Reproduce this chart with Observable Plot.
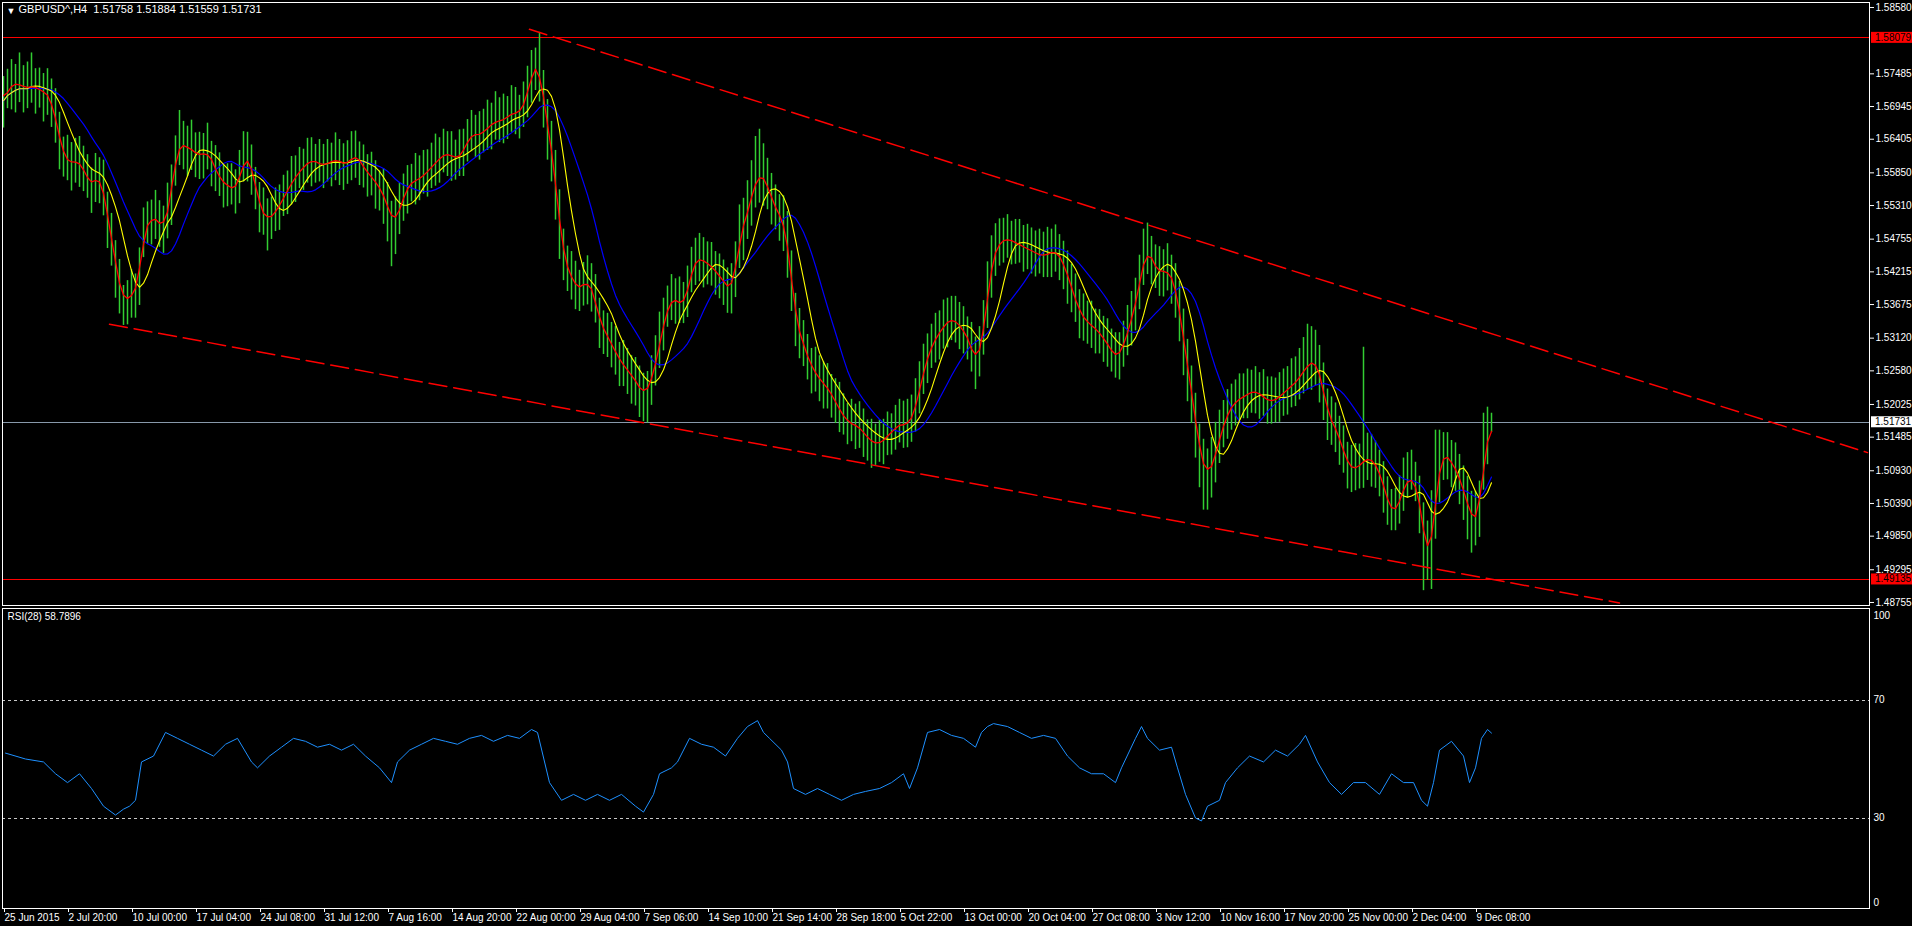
<!DOCTYPE html>
<html><head><meta charset="utf-8">
<script src="https://cdn.jsdelivr.net/npm/d3@7"></script>
<script src="https://cdn.jsdelivr.net/npm/@observablehq/plot@0.6"></script>
<style>
html,body{margin:0;padding:0;background:#000;}
#chart{position:relative;width:1912px;height:926px;background:#000;overflow:hidden;}
#chart svg{display:block;}
</style></head><body><div id="chart"></div>
<script>
const symbolTitle = "GBPUSD^,H4  1.51758 1.51884 1.51559 1.51731";
const rsiTitle = "RSI(28) 58.7896";
const timeLabels = ["25 Jun 2015","2 Jul 20:00","10 Jul 00:00","17 Jul 04:00","24 Jul 08:00","31 Jul 12:00","7 Aug 16:00","14 Aug 20:00","22 Aug 00:00","29 Aug 04:00","7 Sep 06:00","14 Sep 10:00","21 Sep 14:00","28 Sep 18:00","5 Oct 22:00","13 Oct 00:00","20 Oct 04:00","27 Oct 08:00","3 Nov 12:00","10 Nov 16:00","17 Nov 20:00","25 Nov 00:00","2 Dec 04:00","9 Dec 08:00"];
const priceTicks = [1.58580,1.57485,1.56945,1.56405,1.55850,1.55310,1.54755,1.54215,1.53675,1.53120,1.52580,1.52025,1.51485,1.50930,1.50390,1.49850,1.49295,1.48755];
const levelHigh = 1.58079, levelLow = 1.49135, lastPrice = 1.51731;
const rsiLevels = [70, 30];

// closes (pips x 1e4), one every two H4 bars
const closePips = [
15704,15721,15727,15734,15733,15724,15726,15728,15727,15722,
15719,15715,15705,15674,15645,15616,15602,15603,15604,15601,
15594,15575,15563,15572,15582,15556,15515,15476,15438,15402,
15369,15379,15385,15383,15416,15485,15499,15510,15511,15504,
15490,15518,15553,15608,15633,15630,15627,15624,15619,15612,
15615,15622,15607,15592,15576,15569,15564,15560,15557,15572,
15605,15612,15596,15564,15531,15518,15506,15513,15520,15530,
15543,15556,15567,15578,15587,15594,15600,15607,15604,15600,
15597,15600,15604,15607,15604,15601,15598,15608,15616,15606,
15595,15585,15579,15570,15560,15550,15531,15508,15505,15523,
15543,15562,15569,15572,15575,15580,15587,15594,15601,15608,
15615,15617,15613,15609,15611,15619,15638,15648,15648,15648,
15650,15660,15665,15669,15671,15673,15675,15684,15686,15681,
15695,15716,15745,15761,15762,15704,15666,15625,15572,15502,
15452,15429,15410,15401,15394,15395,15412,15395,15372,15343,
15327,15315,15303,15289,15277,15268,15259,15251,15242,15231,
15219,15227,15241,15268,15300,15333,15360,15377,15375,15371,
15366,15386,15422,15441,15443,15440,15436,15430,15423,15415,
15406,15398,15390,15421,15477,15495,15520,15545,15567,15585,
15578,15564,15544,15527,15514,15505,15471,15411,15346,15323,
15301,15283,15265,15255,15245,15237,15230,15220,15207,15194,
15184,15174,15171,15168,15165,15157,15147,15142,15138,15137,
15143,15150,15157,15163,15169,15172,15166,15178,15197,15223,
15257,15279,15297,15311,15321,15330,15338,15346,15339,15333,
15326,15312,15298,15272,15286,15319,15378,15433,15456,15469,
15474,15476,15473,15470,15466,15463,15460,15456,15453,15450,
15447,15450,15454,15457,15447,15437,15416,15396,15376,15356,
15347,15338,15333,15328,15321,15312,15302,15292,15281,15283,
15300,15321,15341,15369,15399,15437,15462,15442,15430,15421,
15420,15426,15413,15395,15361,15310,15265,15226,15179,15125,
15105,15084,15098,15118,15145,15167,15187,15198,15207,15211,
15215,15219,15223,15225,15220,15215,15210,15206,15210,15215,
15221,15227,15233,15239,15245,15258,15267,15271,15275,15255,
15226,15188,15177,15163,15147,15127,15105,15097,15096,15101,
15108,15115,15111,15104,15092,15068,15045,15027,15024,15040,
15064,15078,15081,15072,15044,14998,14945,14965,15044,15099,
15122,15116,15107,15097,15082,15061,15039,15017,15009,15026,
15105,15143,15173];
// distance from close to high / low, pips
const upPips = [
40,35,45,30,50,38,42,55,30,36, 30,42,35,50,40,28,45,32,38,44,
35,40,30,45,28,50,38,42,35,40, 30,28,40,35,45,42,38,30,45,35,
40,50,45,38,55,40,35,48,32,40, 35,45,30,38,42,28,36,40,33,50,
48,40,35,30,38,42,36,32,40,35, 38,32,45,35,40,30,42,36,28,40,
35,40,30,44,36,32,40,45,38,30, 36,30,40,35,28,42,38,30,40,45,
40,35,30,45,38,42,36,40,48,35, 42,36,40,30,45,38,35,40,32,38,
40,45,35,50,38,42,36,45,40,32, 40,45,42,30,55,50,40,45,50,55,
40,35,45,38,30,42,36,40,45,35, 30,38,35,42,28,40,36,32,38,35,
35,30,42,48,55,45,38,40,35,42, 38,45,40,36,42,38,35,40,32,36,
35,30,45,50,55,48,52,60,78,72, 55,45,40,38,35,42,50,45,40,38,
40,35,30,42,38,36,40,32,38,45, 36,30,40,35,42,38,30,36,32,40,
35,40,30,38,42,36,45,40,48,50, 45,40,38,42,36,45,40,35,42,38,
38,35,40,42,45,55,60,48,45,40, 36,40,32,38,42,35,40,38,36,42,
40,45,38,42,36,35,40,38,42,36, 38,35,40,32,38,36,42,35,40,38,
40,45,48,42,50,55,40,38,36,42, 38,42,36,40,45,50,45,40,42,45,
40,45,50,55,48,42,40,38,36,42, 38,42,36,40,35,45,38,42,36,40,
40,38,45,42,50,55,68,60,50,45, 45,40,38,42,36,40,35,38,42,36,
189,40,42,38,35,40,38,35,40,45, 50,45,46,35,40,42,65,95,116,61,
34,40,36,42,38,40,45,42,50,50, 83,55,15];
const dnPips = [
45,30,38,50,32,40,35,28,45,30, 50,35,45,40,55,38,30,48,36,40,
40,32,45,36,48,42,55,45,60,50, 36,45,40,38,50,40,32,44,36,42,
38,42,55,45,36,40,48,35,42,38, 40,32,45,38,30,42,35,28,40,38,
35,42,48,40,45,36,50,38,32,40, 30,40,35,42,28,38,32,45,36,30,
38,30,42,35,40,45,32,36,40,42, 35,40,32,45,38,50,60,78,55,40,
38,45,32,40,36,30,42,35,38,40, 30,38,42,36,32,40,35,28,38,42,
32,38,42,30,36,40,35,32,38,40, 35,40,45,40,60,45,60,55,65,60,
45,40,35,42,38,30,45,40,35,48, 42,35,40,38,45,36,40,48,42,50,
45,55,40,35,38,42,30,36,40,35, 30,40,35,42,38,45,36,32,40,38,
40,45,38,42,50,55,45,48,40,50, 48,40,45,36,42,50,60,55,48,45,
36,40,45,32,38,42,35,40,36,38, 32,38,30,40,35,42,38,45,36,30,
40,32,38,36,30,42,35,38,40,36, 38,42,35,40,45,36,42,38,35,40,
40,36,42,45,38,35,50,55,42,38, 38,32,40,36,30,42,35,38,40,32,
35,38,42,36,40,45,48,42,38,45, 40,36,38,42,35,40,38,36,35,40,
36,38,42,45,40,38,45,42,36,40, 40,36,45,50,55,60,58,55,65,60,
77,56,50,45,40,36,42,38,40,35, 36,40,35,38,42,32,40,36,38,42,
38,42,36,40,35,38,40,45,42,50, 50,45,42,40,45,38,42,40,36,38,
44,38,45,40,42,45,42,33,30,35, 38,30,20,30,55,103,33,68,64,59,
45,38,42,38,45,50,60,60,40,43, 44,40,17];

// RSI(28) (H4 bar number, value)
const rsiBar = [1,11,20,26,32,38,44,50,56,60,63,66,69,75,81,87,93,99,105,111,117,124,127,133,139,145,151,157,163,169,175,181,188,194,197,203,209,215,221,227,233,239,245,252,258,264,267,273,279,285,291,297,303,309,316,320,325,328,334,337,343,349,355,361,367,372,377,380,383,389,392,395,401,407,413,419,425,431,438,444,450,453,457,462,468,474,480,486,489,492,495,502,508,514,520,526,532,538,544,550,556,559,566,569,572,578,584,587,591,596,599,602,608,611,617,623,630,636,642,648,651,657,663,669,675,681,688,694,700,705,709,712,715,718,724,730,733,736,739,742,744];
const rsiVal = [52,50,49,45,42,45,40,34,31,33,34,36,49,51,59,57,55,53,51,55,57,49,47,51,54,57,56,54,55,53,55,51,47,42,49,53,55,57,56,55,57,58,56,58,57,60,59,42,36,38,36,38,36,38,34,32,38,45,47,49,57,55,54,51,57,61,63,59,57,53,49,40,38,40,38,36,38,39,40,42,45,40,47,59,60,58,57,54,59,61,62,61,59,57,58,57,51,47,45,45,42,47,57,61,57,53,54,47,38,30,29,34,36,42,47,51,49,53,51,55,58,49,42,38,42,42,38,45,42,42,36,34,42,53,56,51,42,47,57,60,58.79];

// channel lines (H4 bar number, price)
const channelUpper = [{bar: 263, price: 1.5822}, {bar: 932, price: 1.5123}];
const channelLower = [{bar: 53, price: 1.5335}, {bar: 808, price: 1.48748}];

const bars = closePips.map((c, j) => ({i: 2 * j, close: c / 1e4, hi: (c + upPips[j]) / 1e4, lo: (c - dnPips[j]) / 1e4}));
const rsiPts = rsiBar.map((b, k) => ({bar: b, rsi: rsiVal[k]}));
const timeTicks = timeLabels.map((_, k) => 32 * k);

const xDomain = [-0.5, 933];
const fontFamily = "'Liberation Sans', Arial, sans-serif";
const fmt5 = d3.format(".5f");
const crisp = {shapeRendering: "crispEdges"};

function priceTag(value, bg, fg) {
  return (index, scales, values, dims) => {
    const y = scales.y(value);
    const g = d3.create("svg:g");
    const x0 = dims.width - dims.marginRight + 2;
    g.append("rect").attr("x", x0).attr("y", y - 5.5).attr("width", dims.marginRight - 2).attr("height", 11).attr("fill", bg);
    g.append("text").attr("x", x0 + 4).attr("y", y).attr("dy", "0.35em").attr("fill", fg)
      .attr("text-anchor", "start").attr("font-size", 10).attr("font-family", fontFamily).text(fmt5(value));
    return g.node();
  };
}

const main = Plot.plot({
  width: 1912, height: 607,
  marginLeft: 2, marginRight: 43, marginTop: 2, marginBottom: 2,
  style: {background: "#000", color: "#fff", fontFamily, fontSize: "10px", overflow: "visible"},
  x: {domain: xDomain, axis: null},
  y: {domain: [1.48705, 1.58663], axis: null},
  marks: [
    Plot.ruleY([levelHigh, levelLow], {stroke: "#ff0000", ...crisp}),
    Plot.ruleY([lastPrice], {stroke: "#8899aa", ...crisp}),
    Plot.ruleX(bars, {x: "i", y1: "lo", y2: "hi", stroke: "#32cd32", strokeWidth: 1.5}),
    Plot.line(bars, Plot.windowY({k: 15, anchor: "end"}, {x: "i", y: "close", stroke: "#0000ff", strokeWidth: 1.2})),
    Plot.line(bars, Plot.windowY({k: 7, anchor: "end"}, {x: "i", y: "close", stroke: "#ffff00", strokeWidth: 1.1})),
    Plot.line(bars, Plot.windowY({k: 3, anchor: "middle"}, {x: "i", y: "close", stroke: "#ff0000", strokeWidth: 1.3})),
    Plot.line(channelUpper, {x: "bar", y: "price", stroke: "#ff0000", strokeDasharray: "18,7", clip: "frame"}),
    Plot.line(channelLower, {x: "bar", y: "price", stroke: "#ff0000", strokeDasharray: "18,7", clip: "frame"}),
    Plot.frame({stroke: "#fff", ...crisp}),
    Plot.axisY(priceTicks, {anchor: "right", tickSize: 4, tickPadding: 2, tickFormat: fmt5, fill: "#fff", stroke: "#fff", label: null}),
    priceTag(levelHigh, "#ff0000", "#000"),
    priceTag(levelLow, "#ff0000", "#000"),
    priceTag(lastPrice, "#ffffff", "#000"),
    Plot.text(["\u25BC"], {frameAnchor: "top-left", dx: 4, dy: 5, fill: "#fff", fontSize: 9, textAnchor: "start"}),
    Plot.text([symbolTitle], {frameAnchor: "top-left", dx: 16, dy: 3, fill: "#fff", fontSize: 11, textAnchor: "start"})
  ]
});

const rsiPlot = Plot.plot({
  width: 1912, height: 319,
  marginLeft: 2, marginRight: 43, marginTop: 1, marginBottom: 18,
  style: {background: "#000", color: "#fff", fontFamily, fontSize: "10px", overflow: "visible"},
  x: {domain: xDomain, axis: null, label: null},
  y: {domain: [0, 100], range: [299, 4], axis: null},
  marks: [
    Plot.ruleY(rsiLevels, {stroke: "#c8c8c8", strokeDasharray: "3,3", ...crisp}),
    Plot.line(rsiPts, {x: "bar", y: "rsi", stroke: "#1e90ff", strokeWidth: 1}),
    Plot.frame({stroke: "#fff", ...crisp}),
    Plot.axisX(timeTicks, {anchor: "bottom", tickSize: 4, tickPadding: 1, textAnchor: "start", dx: 1, label: null,
      tickFormat: d => timeLabels[Math.round(d / 32)], fill: "#fff", stroke: "#fff"}),
    Plot.text(rsiLevels, {y: d => d, text: d => String(d), frameAnchor: "right", dx: 4, textAnchor: "start", fill: "#fff"}),
    Plot.text([100], {y: d => d, text: d => String(d), frameAnchor: "right", dx: 4, dy: 4, textAnchor: "start", fill: "#fff"}),
    Plot.text([0], {y: d => d, text: d => String(d), frameAnchor: "right", dx: 4, dy: -4, textAnchor: "start", fill: "#fff"}),
    Plot.text([rsiTitle], {frameAnchor: "top-left", dx: 5, dy: 4, fill: "#fff", textAnchor: "start"})
  ]
});

const root = document.getElementById("chart");
root.appendChild(main);
root.appendChild(rsiPlot);
</script>
</body></html>
